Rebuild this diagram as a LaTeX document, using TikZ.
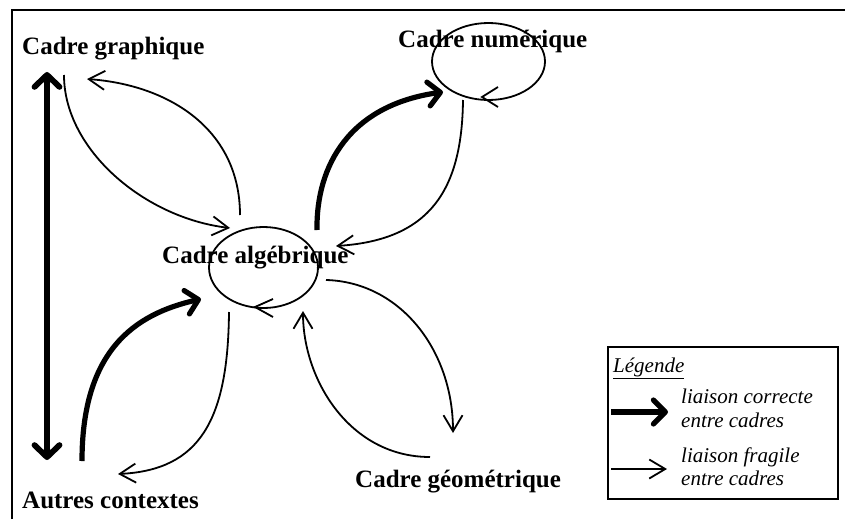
\documentclass[tikz,border=0pt]{standalone}
\usepackage{fontspec}
\setmainfont{Liberation Serif}
\usetikzlibrary{arrows.meta,shapes.geometric}
\begin{document}
\begin{tikzpicture}[x=1pt,y=-1pt,
  lbl/.style={font=\fontsize{25}{30}\selectfont\bfseries, inner sep=0pt, anchor=base west},
  leg/.style={font=\fontsize{21}{24}\selectfont\itshape, inner sep=0pt, anchor=base west},
  thinarr/.style={line width=1.8pt, -{Straight Barb[length=16pt,width=19pt]}},
  thickarr/.style={line width=5.2pt, -{Straight Barb[length=12pt,width=24pt,round]}},
  thickdbl/.style={line width=5.8pt, {Straight Barb[length=12pt,width=25pt,round]}-{Straight Barb[length=12pt,width=25pt,round]}},
  ell/.style={draw, ellipse, line width=1.8pt, inner sep=0pt},
  head/.style={line width=1.8pt}]
\useasboundingbox (0,0) rectangle (845,519);
% frame
\draw[line width=2.8pt] (12,519) -- (12,10) -- (845,10);
% ellipses
\node[ell, minimum width=113pt, minimum height=77pt] (numE) at (488.5,61.5) {};
\node[ell, minimum width=109pt, minimum height=81pt] (algE) at (263.5,267.5) {};
% labels
\node[lbl] (graph) at (22,55) {Cadre graphique};
\node[lbl] (num) at (398,48) {Cadre numérique};
\node[lbl] (alg) at (162,263) {Cadre algébrique};
\node[lbl] (geo) at (355,487) {Cadre géométrique};
\node[lbl] (autres) at (22,508) {Autres contextes};
% self arrowheads on ellipses
\draw[head] (498,87) -- (482,97) -- (498,107);
\draw[head] (273,299) -- (255,307) -- (273,317);
% connector endpoints
\coordinate (gA) at (64,75);   \coordinate (aG) at (230,228);
\coordinate (aG2) at (240,215); \coordinate (gA2) at (87,79);
\coordinate (aN) at (317,230); \coordinate (nA) at (443,92);
\coordinate (nA2) at (463,100); \coordinate (aN2) at (336,246);
\coordinate (aGeo) at (326,280); \coordinate (geoA) at (453,433);
\coordinate (geoA2) at (430,457); \coordinate (aGeo2) at (303,311);
\coordinate (oA) at (82,461); \coordinate (aO) at (201,299);
\coordinate (aO2) at (229,312); \coordinate (oA2) at (118,474);
\coordinate (vTop) at (47,72); \coordinate (vBot) at (47,460);
% connectors
\draw[thickdbl] (vTop) -- (vBot);
\draw[thinarr] (gA) .. controls (64,150) and (145,218) .. (aG);
\draw[thinarr] (aG2) .. controls (240,130) and (170,85) .. (gA2);
\draw[thickarr] (aN) .. controls (316,165) and (350,105) .. (nA);
\draw[thinarr] (nA2) .. controls (462,190) and (430,240) .. (aN2);
\draw[thinarr] (aGeo) .. controls (400,282) and (453,350) .. (geoA);
\draw[thinarr] (geoA2) .. controls (350,457) and (303,380) .. (aGeo2);
\draw[thickarr] (oA) .. controls (82,350) and (135,314) .. (aO);
\draw[thinarr] (aO2) .. controls (228,420) and (200,470) .. (oA2);
% legend
\node[draw, line width=1.5pt, minimum width=230pt, minimum height=152pt, anchor=north west, inner sep=0pt] (legbox) at (607,346) {};
\node[leg] (legT) at (613,372) {\underline{Légende}};
\node[leg] (l1a) at (681,403) {liaison correcte};
\node[leg] (l1b) at (681,427) {entre cadres};
\node[leg] (l2a) at (681,462) {liaison fragile};
\node[leg] (l2b) at (681,485) {entre cadres};
\coordinate (k1s) at (611,412); \coordinate (k1e) at (668,412);
\coordinate (k2s) at (611,469); \coordinate (k2e) at (667,469);
\draw[thickarr] (k1s) -- (k1e);
\draw[thinarr] (k2s) -- (k2e);
\end{tikzpicture}
\end{document}
